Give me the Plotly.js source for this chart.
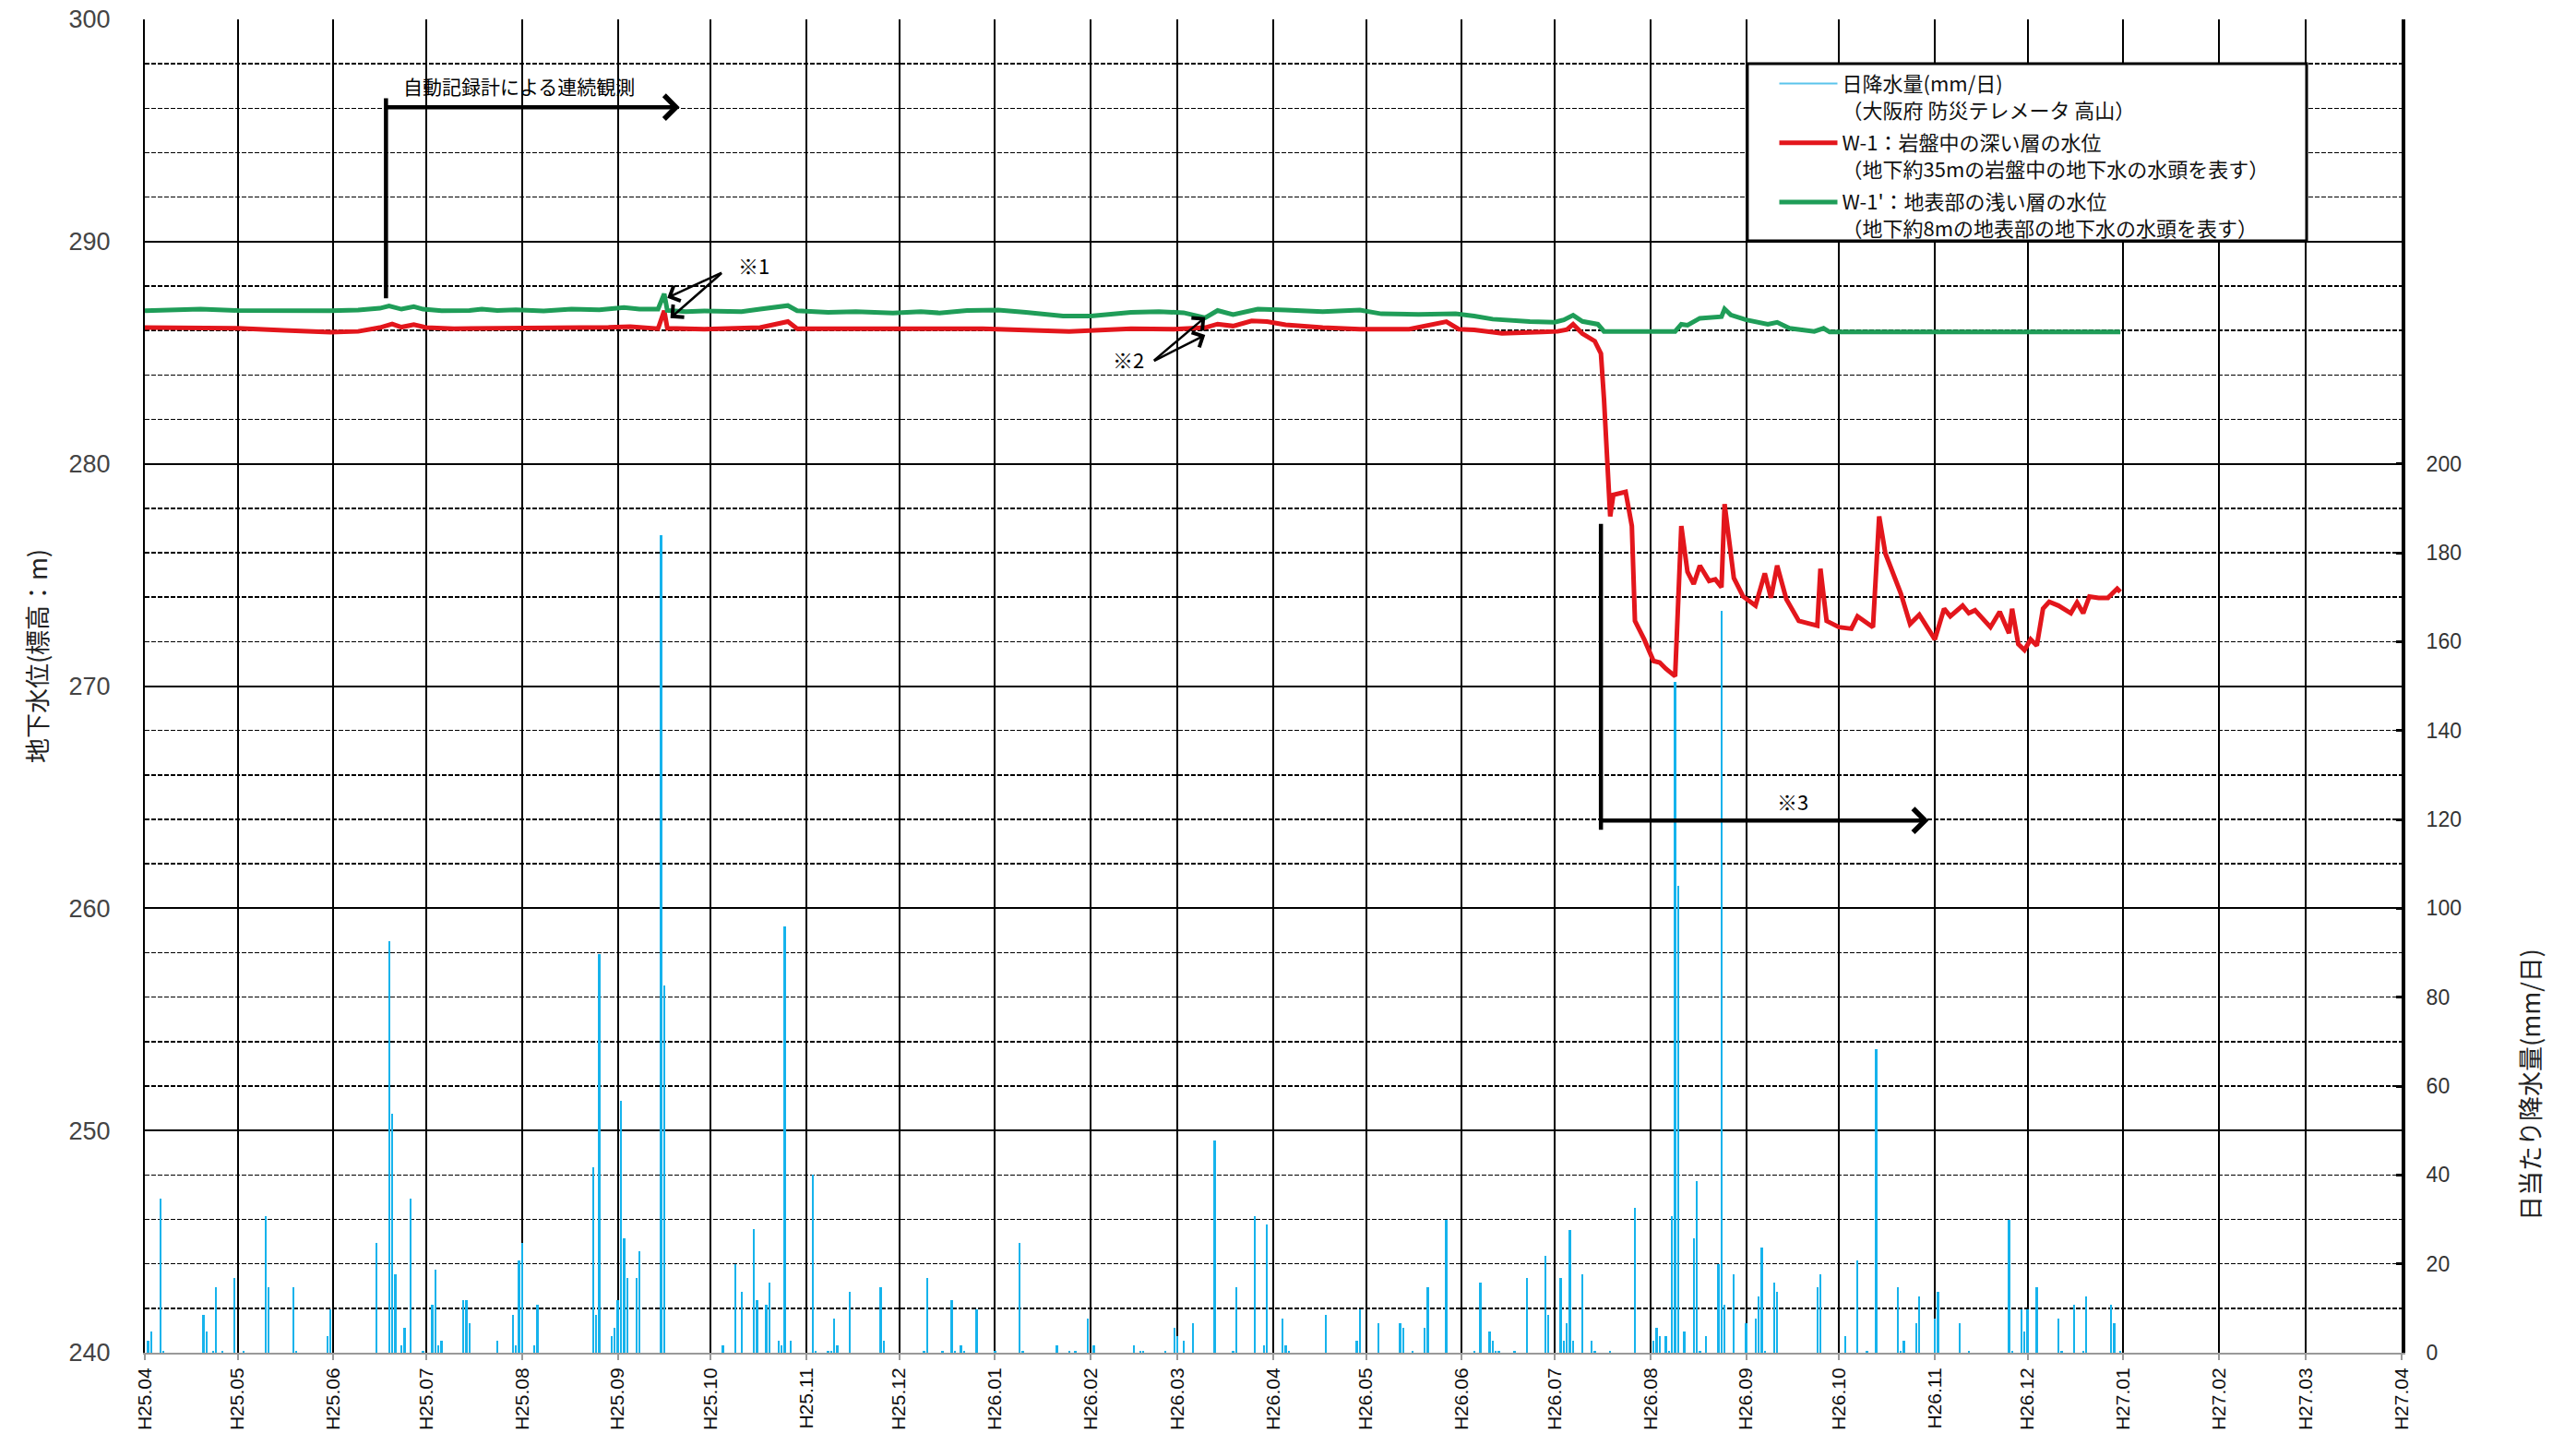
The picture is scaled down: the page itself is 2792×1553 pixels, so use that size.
<!DOCTYPE html>
<html>
<head>
<meta charset="utf-8">
<script src="https://cdn.plot.ly/plotly-3.0.1.min.js"></script>
<style>html,body{margin:0;padding:0;background:#fff;}#chart{width:2792px;height:1553px;}</style>
</head>
<body>
<div id="chart"></div>
<script>
// ---- tick positions / labels (monthly) ----
const monthDates = ['2013-04-01','2013-05-01','2013-06-01','2013-07-01','2013-08-01','2013-09-01','2013-10-01','2013-11-01','2013-12-01',
  '2014-01-01','2014-02-01','2014-03-01','2014-04-01','2014-05-01','2014-06-01','2014-07-01','2014-08-01','2014-09-01','2014-10-01','2014-11-01','2014-12-01',
  '2015-01-01','2015-02-01','2015-03-01','2015-04-01'];
const monthLabels = ['H25.04','H25.05','H25.06','H25.07','H25.08','H25.09','H25.10','H25.11','H25.12',
  'H26.01','H26.02','H26.03','H26.04','H26.05','H26.06','H26.07','H26.08','H26.09','H26.10','H26.11','H26.12',
  'H27.01','H27.02','H27.03','H27.04'];
const rainTickVals = [0,20,40,60,80,100,120,140,160,180,200];

// ---- daily rainfall (mm/day) ----
const rainDates = [
 '2013-04-02','2013-04-03','2013-04-06','2013-04-07','2013-04-20','2013-04-21','2013-04-23','2013-04-24','2013-04-26','2013-04-30',
 '2013-05-03','2013-05-10','2013-05-11','2013-05-19','2013-05-20','2013-05-30','2013-05-31',
 '2013-06-15','2013-06-19','2013-06-20','2013-06-21','2013-06-23','2013-06-24','2013-06-26','2013-06-30',
 '2013-07-03','2013-07-04','2013-07-05','2013-07-06','2013-07-13','2013-07-14','2013-07-15','2013-07-24','2013-07-29','2013-07-30','2013-07-31',
 '2013-08-01','2013-08-05','2013-08-06','2013-08-24','2013-08-25','2013-08-26','2013-08-30','2013-08-31',
 '2013-09-01','2013-09-02','2013-09-03','2013-09-04','2013-09-07','2013-09-08','2013-09-15','2013-09-16',
 '2013-10-05','2013-10-09','2013-10-11','2013-10-15','2013-10-16','2013-10-19','2013-10-20','2013-10-23','2013-10-24','2013-10-25','2013-10-27',
 '2013-11-03','2013-11-04','2013-11-08','2013-11-09','2013-11-10','2013-11-11','2013-11-15','2013-11-25','2013-11-26',
 '2013-12-09','2013-12-10','2013-12-15','2013-12-18','2013-12-19','2013-12-21','2013-12-22','2013-12-26',
 '2014-01-01','2014-01-09','2014-01-10','2014-01-21','2014-01-25','2014-01-27','2014-01-31',
 '2014-02-02','2014-02-15','2014-02-17','2014-02-18','2014-02-25','2014-02-28',
 '2014-03-01','2014-03-03','2014-03-06','2014-03-13','2014-03-19','2014-03-20','2014-03-26','2014-03-29','2014-03-30',
 '2014-04-04','2014-04-05','2014-04-06','2014-04-18','2014-04-28','2014-04-29',
 '2014-05-05','2014-05-12','2014-05-13','2014-05-16','2014-05-20','2014-05-21','2014-05-27',
 '2014-06-05','2014-06-07','2014-06-10','2014-06-11','2014-06-12','2014-06-13','2014-06-18','2014-06-22','2014-06-28','2014-06-29',
 '2014-07-03','2014-07-04','2014-07-05','2014-07-06','2014-07-07','2014-07-10','2014-07-13','2014-07-14','2014-07-19','2014-07-27',
 '2014-08-02','2014-08-03','2014-08-04','2014-08-06','2014-08-07','2014-08-08','2014-08-09','2014-08-10','2014-08-12','2014-08-15','2014-08-16','2014-08-17','2014-08-19','2014-08-23','2014-08-24','2014-08-25','2014-08-28',
 '2014-09-01','2014-09-04','2014-09-05','2014-09-06','2014-09-07','2014-09-10','2014-09-11','2014-09-24','2014-09-25',
 '2014-10-03','2014-10-07','2014-10-10','2014-10-13','2014-10-20','2014-10-21','2014-10-22','2014-10-26','2014-10-27',
 '2014-11-01','2014-11-02','2014-11-09','2014-11-12','2014-11-25','2014-11-26','2014-11-29','2014-11-30',
 '2014-12-01','2014-12-04','2014-12-11','2014-12-12','2014-12-16','2014-12-19','2014-12-20','2014-12-28','2014-12-29','2014-12-31'
];
const rainMm = [
 2.6,4.7,34.7,0.5,8.6,4.7,0.5,14.7,0.5,16.8,
 0.5,30.8,14.7,14.7,0.5,3.7,9.7,
 24.8,92.7,53.7,17.7,1.6,5.7,34.7,0.5,
 10.7,18.7,1.6,2.6,11.8,11.8,6.6,2.6,8.6,1.6,20.8,
 24.8,1.6,10.7,41.7,8.6,89.6,3.7,5.7,
 11.8,56.6,25.8,16.8,16.8,22.8,184,82.6,
 1.6,19.9,13.7,27.9,11.8,10.7,15.8,2.6,1.6,95.9,2.6,
 40,0.5,0.5,0.5,7.7,1.6,13.7,14.7,2.6,
 0.5,16.8,0.5,11.8,0.5,1.6,0.5,9.7,
 0.5,24.8,0.5,1.6,0.5,0.5,7.7,
 1.6,1.6,0.5,0.5,0.5,5.7,
 3.7,2.6,6.6,47.7,0.5,14.7,30.8,1.6,28.8,
 7.7,1.6,0.5,8.6,2.6,9.7,
 6.6,6.6,5.7,0.5,5.7,14.7,29.8,
 0.5,15.8,4.7,2.6,0.5,0.5,0.5,16.8,21.8,8.6,
 16.8,2.6,6.6,27.7,2.6,17.7,2.6,0.5,0.5,32.5,
 2.6,5.7,3.7,3.7,0.5,30.8,151,105,4.7,25.8,38.6,0.5,3.7,19.9,167,10.7,17.7,
 6.6,7.7,12.7,23.7,0.5,15.8,13.7,14.7,17.7,
 3.7,20.8,0.5,68.4,14.7,0.5,2.6,6.6,12.7,
 7.7,13.7,6.6,0.5,29.8,0.5,9.7,4.7,
 9.7,14.7,7.7,0.5,10.7,0.5,12.7,10.7,6.6,0.5
];

// ---- W-1 : deep layer in bedrock (m) ----
const w1Dates = [
 '2013-04-01','2013-05-01','2013-05-16','2013-05-31','2013-06-09','2013-06-16','2013-06-20','2013-06-23','2013-06-27','2013-07-01',
 '2013-07-10','2013-07-30','2013-08-20','2013-08-29','2013-09-05','2013-09-14','2013-09-16','2013-09-17','2013-09-29','2013-10-17',
 '2013-10-26','2013-10-29','2013-11-29','2013-12-28','2014-01-25','2014-02-14','2014-02-28','2014-03-10','2014-03-14','2014-03-19',
 '2014-03-25','2014-03-30','2014-04-05','2014-04-17','2014-04-29','2014-05-15','2014-05-27','2014-05-31','2014-06-05','2014-06-14',
 '2014-06-27','2014-07-02','2014-07-05','2014-07-07','2014-07-10','2014-07-14','2014-07-16','2014-07-17','2014-07-19','2014-07-20',
 '2014-07-24','2014-07-26','2014-07-27','2014-07-30','2014-08-02','2014-08-04','2014-08-06','2014-08-09','2014-08-11','2014-08-13',
 '2014-08-15','2014-08-17','2014-08-20','2014-08-22','2014-08-24','2014-08-25','2014-08-28','2014-08-31','2014-09-04','2014-09-07',
 '2014-09-09','2014-09-11','2014-09-14','2014-09-18','2014-09-22','2014-09-24','2014-09-25','2014-09-27','2014-10-01','2014-10-05',
 '2014-10-07','2014-10-12','2014-10-14','2014-10-16','2014-10-21','2014-10-24','2014-10-27','2014-11-01','2014-11-04','2014-11-06',
 '2014-11-10','2014-11-12','2014-11-14','2014-11-19','2014-11-22','2014-11-25','2014-11-26','2014-11-28','2014-11-30','2014-12-02',
 '2014-12-04','2014-12-06','2014-12-08','2014-12-11','2014-12-15','2014-12-17','2014-12-19','2014-12-21','2014-12-24','2014-12-27',
 '2014-12-30','2014-12-31'
];
const w1Level = [
 286.13,286.10,286.01,285.92,285.96,286.13,286.29,286.15,286.26,286.13,
 286.08,286.08,286.13,286.14,286.17,286.08,286.89,286.10,286.06,286.13,
 286.40,286.08,286.06,286.08,285.96,286.08,286.06,286.13,286.29,286.20,
 286.43,286.40,286.26,286.13,286.06,286.06,286.40,286.06,286.03,285.87,
 285.93,285.96,286.04,286.28,285.86,285.52,284.96,282.90,277.63,278.60,
 278.74,277.20,272.93,272.10,271.13,271.06,270.78,270.44,277.20,275.14,
 274.59,275.42,274.73,274.80,274.45,278.19,274.86,274.03,273.62,275.07,
 273.97,275.42,273.90,272.93,272.79,272.72,275.28,272.93,272.65,272.58,
 273.14,272.65,277.63,275.97,274.17,272.79,273.21,272.10,273.48,273.14,
 273.62,273.28,273.41,272.65,273.34,272.38,273.48,271.89,271.62,272.10,
 271.82,273.48,273.79,273.62,273.28,273.76,273.28,274.03,273.97,273.97,
 274.38,274.24
];

// ---- W-1' : shallow surface layer (m) ----
const w1pDates = [
 '2013-04-01','2013-04-10','2013-04-19','2013-05-01','2013-05-16','2013-05-31','2013-06-09','2013-06-16','2013-06-19','2013-06-23',
 '2013-06-27','2013-06-30','2013-07-06','2013-07-15','2013-07-19','2013-07-24','2013-07-30','2013-08-08','2013-08-17','2013-08-26',
 '2013-09-03','2013-09-08','2013-09-14','2013-09-16','2013-09-17','2013-09-23','2013-09-29','2013-10-11','2013-10-17','2013-10-26',
 '2013-10-29','2013-11-08','2013-11-17','2013-11-29','2013-12-08','2013-12-14','2013-12-23','2014-01-02','2014-01-11','2014-01-23',
 '2014-02-01','2014-02-14','2014-02-23','2014-03-03','2014-03-10','2014-03-14','2014-03-19','2014-03-27','2014-04-05','2014-04-17',
 '2014-04-29','2014-05-06','2014-05-18','2014-05-30','2014-06-05','2014-06-11','2014-06-23','2014-07-01','2014-07-04','2014-07-07',
 '2014-07-10','2014-07-15','2014-07-17','2014-08-09','2014-08-11','2014-08-13','2014-08-17','2014-08-24','2014-08-25','2014-08-27',
 '2014-09-01','2014-09-08','2014-09-11','2014-09-15','2014-09-23','2014-09-26','2014-09-28','2014-12-31'
];
const w1pLevel = [
 286.89,286.92,286.96,286.90,286.88,286.89,286.92,287.00,287.10,286.96,
 287.07,286.96,286.89,286.90,286.96,286.90,286.93,286.88,286.96,286.93,
 287.03,286.96,286.96,287.65,286.90,286.85,286.88,286.85,286.96,287.12,
 286.89,286.82,286.85,286.79,286.85,286.79,286.90,286.92,286.82,286.65,
 286.65,286.82,286.85,286.80,286.57,286.90,286.72,286.96,286.92,286.85,
 286.92,286.75,286.72,286.75,286.65,286.51,286.40,286.37,286.48,286.69,
 286.41,286.28,285.96,285.96,286.28,286.24,286.55,286.62,286.97,286.70,
 286.48,286.28,286.37,286.10,285.96,286.10,285.93,285.93
];

const jp = 'Noto Sans CJK JP, sans-serif';
const num = 'Liberation Sans, Arial, sans-serif';

const traces = [
  { type: 'bar', x: rainDates, y: rainMm, yaxis: 'y', width: 0.7 * 86400000,
    marker: { color: '#16b3ec', line: { width: 0 } }, showlegend: false, hoverinfo: 'skip' },
  { type: 'scatter', mode: 'lines', x: [null], y: [null], yaxis: 'y',
    name: '日降水量(mm/日)<br>（大阪府 防災テレメータ 高山）', legendgroup: 'g1',
    line: { color: '#5bc4ec', width: 2 } },
  { type: 'scatter', mode: 'lines', x: w1Dates, y: w1Level, yaxis: 'y2',
    name: 'W-1：岩盤中の深い層の水位<br>（地下約35mの岩盤中の地下水の水頭を表す）', legendgroup: 'g2',
    line: { color: '#e3161c', width: 5 } },
  { type: 'scatter', mode: 'lines', x: w1pDates, y: w1pLevel, yaxis: 'y2',
    name: "W-1'：地表部の浅い層の水位<br>（地下約8mの地表部の地下水の水頭を表す）", legendgroup: 'g3',
    line: { color: '#1f9d58', width: 5 } }
];

const arrowBase = { xref: 'x', yref: 'y2', axref: 'x', ayref: 'y2', text: '', showarrow: true,
  arrowcolor: '#000', standoff: 0, startstandoff: 0 };

const layout = {
  width: 2792, height: 1553,
  margin: { l: 157, r: 189, t: 21, b: 87, pad: 0 },
  paper_bgcolor: '#fff', plot_bgcolor: '#fff',
  hovermode: false,
  bargap: 0,
  xaxis: {
    type: 'date', range: ['2013-04-01', '2015-04-01'],
    tickmode: 'array', tickvals: monthDates, ticktext: monthLabels, tickangle: -90,
    tickfont: { family: num, size: 21, color: '#111' },
    showgrid: true, gridcolor: '#000', gridwidth: 2,
    showline: true, linecolor: '#9a9a9a', linewidth: 2,
    ticks: 'outside', ticklen: 6, tickwidth: 2, tickcolor: '#9a9a9a',
    zeroline: false
  },
  yaxis: {
    side: 'right', range: [0, 300],
    tickmode: 'array', tickvals: rainTickVals,
    tickfont: { family: num, size: 23, color: '#333' },
    showgrid: false, zeroline: false,
    showline: true, linecolor: '#000', linewidth: 4,
    ticks: 'inside', ticklen: 6, tickwidth: 3, tickcolor: '#000',
    ticklabelstandoff: 18
  },
  yaxis2: {
    overlaying: 'y', side: 'left', range: [240, 300],
    tick0: 240, dtick: 10,
    tickfont: { family: num, size: 27, color: '#444' },
    showgrid: true, gridcolor: '#000', gridwidth: 2,
    minor: { tick0: 240, dtick: 2, showgrid: true, gridcolor: '#000', gridwidth: 1.6, griddash: '5px,2px' },
    showline: true, linecolor: '#000', linewidth: 2,
    ticks: '', zeroline: false,
    ticklabelstandoff: 30
  },
  showlegend: true,
  legend: {
    x: 0.7222, y: 0.9663, xanchor: 'left', yanchor: 'top',
    bgcolor: 'rgba(0,0,0,0)', borderwidth: 0,
    traceorder: 'grouped', tracegroupgap: 4, valign: 'top', itemwidth: 63,
    font: { family: jp, size: 22, color: '#111' }
  },
  shapes: [
    { type: 'rect', xref: 'paper', yref: 'paper', x0: 0.7101, x1: 0.9579, y0: 0.8339, y1: 0.9668,
      line: { color: '#000', width: 3 }, fillcolor: '#fff', layer: 'above' },
    { type: 'line', xref: 'x', yref: 'y2', x0: '2013-06-18', x1: '2013-06-18', y0: 287.45, y1: 296.45,
      line: { color: '#000', width: 4.5 } },
    { type: 'line', xref: 'x', yref: 'y2', x0: '2014-07-16', x1: '2014-07-16', y0: 263.53, y1: 277.3,
      line: { color: '#000', width: 4.5 } }
  ],
  annotations: [
    { xref: 'x', yref: 'y2', x: '2013-06-23', y: 297.0, xanchor: 'left', yanchor: 'middle', showarrow: false,
      text: '自動記録計による連続観測', font: { family: jp, size: 21, color: '#000' } },
    Object.assign({}, arrowBase, { x: '2013-09-21', y: 296.05, ax: '2013-06-18', ay: 296.05,
      arrowhead: 4, arrowwidth: 4.5, arrowsize: 1.1 }),
    { xref: 'x', yref: 'y2', x: '2013-10-15', y: 288.96, showarrow: false,
      text: '※1', font: { family: jp, size: 22, color: '#000' } },
    Object.assign({}, arrowBase, { x: '2013-09-17', y: 287.47, ax: '2013-10-05', ay: 288.63,
      arrowhead: 4, arrowwidth: 2.5, arrowsize: 1.4 }),
    Object.assign({}, arrowBase, { x: '2013-09-18', y: 286.56, ax: '2013-10-05', ay: 288.63,
      arrowhead: 4, arrowwidth: 2.5, arrowsize: 1.4 }),
    { xref: 'x', yref: 'y2', x: '2014-02-13', y: 284.73, showarrow: false,
      text: '※2', font: { family: jp, size: 22, color: '#000' } },
    Object.assign({}, arrowBase, { x: '2014-03-10', y: 286.6, ax: '2014-02-21', ay: 284.6,
      arrowhead: 4, arrowwidth: 2.5, arrowsize: 1.4 }),
    Object.assign({}, arrowBase, { x: '2014-03-10', y: 285.8, ax: '2014-02-21', ay: 284.6,
      arrowhead: 4, arrowwidth: 2.5, arrowsize: 1.4 }),
    Object.assign({}, arrowBase, { x: '2014-10-30', y: 263.95, ax: '2014-07-16', ay: 263.95,
      arrowhead: 4, arrowwidth: 4.5, arrowsize: 1.1 }),
    { xref: 'x', yref: 'y2', x: '2014-09-16', y: 264.81, showarrow: false,
      text: '※3', font: { family: jp, size: 22, color: '#000' } },
    { xref: 'paper', yref: 'paper', x: -0.0478, y: 0.5225, xanchor: 'center', yanchor: 'middle',
      showarrow: false, textangle: -90, text: '地下水位(標高：m)', font: { family: jp, size: 27, color: '#222' } },
    { xref: 'paper', yref: 'paper', x: 1.0568, y: 0.2014, xanchor: 'center', yanchor: 'middle',
      showarrow: false, textangle: -90, text: '日当たり降水量(mm/日)', font: { family: jp, size: 27, color: '#222' } }
  ]
};

Plotly.newPlot('chart', traces, layout, { displayModeBar: false, staticPlot: true });
</script>
</body>
</html>
